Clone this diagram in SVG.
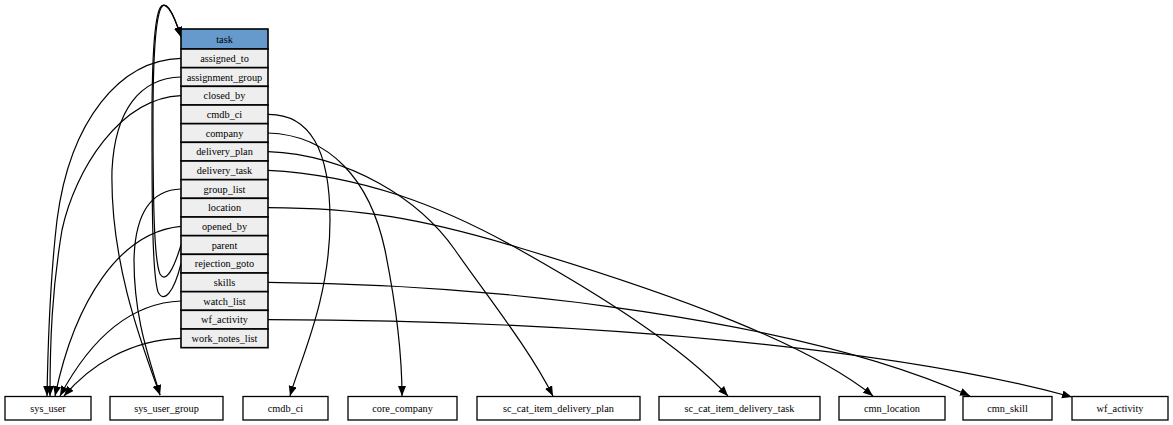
<svg xmlns="http://www.w3.org/2000/svg" width="1173" height="425" viewBox="0 0 1173 425">
<style>
text{font-family:"Liberation Serif","Times New Roman",serif;font-size:10.3px;fill:#000;text-anchor:middle}
.cell{fill:#eeeeee;stroke:#000;stroke-width:1.6}
.hdr{fill:#6699cc;stroke:#000;stroke-width:1.6}
.box{fill:#fff;stroke:#000;stroke-width:1.3}
.e{fill:none;stroke:#000;stroke-width:1.2;marker-end:url(#ah)}
</style>
<defs>
<marker id="ah" markerUnits="userSpaceOnUse" markerWidth="12" markerHeight="9" refX="10" refY="4" orient="auto">
<path d="M0,0 L10,4 L0,8 z" fill="#000"/>
</marker>
</defs>
<rect width="1173" height="425" fill="#fff"/>
<g id="connectors">
<path class="e" d="M181,58.3 C120,60 70,120 57,220 C50,280 48,340 47,396"/>
<path class="e" d="M181,95.7 C120,98 75,170 62,230 C52,290 50,340 50,396"/>
<path class="e" d="M181,226.3 C120,232 75,300 55,396"/>
<path class="e" d="M181,301 C130,303 90,340 60,396"/>
<path class="e" d="M181,338.3 C130,340 90,365 64,396"/>
<path class="e" d="M181,77 C140,78 115,110 112,170 C110,260 140,340 160,395"/>
<path class="e" d="M181,189 C150,190 135,215 134,260 C134,320 150,360 160,395"/>
<path class="e" d="M181,245 C174,268 166,284 160,274 C154,260 153,200 153,120 C153,60 155,20 161,8 C165,0 172,8 181,37"/>
<path class="e" d="M181,263.7 C174,292 164,304 158,292 C152,272 152,200 152,120 C152,60 154,20 160,8 C164,0 172,8 181,37"/>
<path class="e" d="M268,114.3 C310,114 330,150 330,220 C330,300 300,360 290,396"/>
<path class="e" d="M268,133 C330,135 370,180 385,250 C395,300 402,350 402,396"/>
<path class="e" d="M268,151.7 C350,155 420,200 455,250 C490,300 530,350 553,396"/>
<path class="e" d="M268,170.3 C360,175 440,205 520,250 C600,295 680,345 728,396"/>
<path class="e" d="M268,207.7 C360,208 420,218 520,248 C680,296 810,345 873,396"/>
<path class="e" d="M268,282.3 C500,284 800,320 970,396"/>
<path class="e" d="M268,319.7 C600,320 900,350 1072,397"/>
</g>
<g id="task">
<rect class="hdr" x="181" y="29" width="87" height="20"/>
<text x="224.5" y="42.5">task</text>
<rect class="cell" x="181" y="49" width="87" height="18.67"/><text x="224.5" y="61.8">assigned_to</text>
<rect class="cell" x="181" y="67.67" width="87" height="18.67"/><text x="224.5" y="80.5">assignment_group</text>
<rect class="cell" x="181" y="86.33" width="87" height="18.67"/><text x="224.5" y="99.2">closed_by</text>
<rect class="cell" x="181" y="105" width="87" height="18.67"/><text x="224.5" y="117.8">cmdb_ci</text>
<rect class="cell" x="181" y="123.67" width="87" height="18.67"/><text x="224.5" y="136.5">company</text>
<rect class="cell" x="181" y="142.33" width="87" height="18.67"/><text x="224.5" y="155.2">delivery_plan</text>
<rect class="cell" x="181" y="161" width="87" height="18.67"/><text x="224.5" y="173.8">delivery_task</text>
<rect class="cell" x="181" y="179.67" width="87" height="18.67"/><text x="224.5" y="192.5">group_list</text>
<rect class="cell" x="181" y="198.33" width="87" height="18.67"/><text x="224.5" y="211.2">location</text>
<rect class="cell" x="181" y="217" width="87" height="18.67"/><text x="224.5" y="229.8">opened_by</text>
<rect class="cell" x="181" y="235.67" width="87" height="18.67"/><text x="224.5" y="248.5">parent</text>
<rect class="cell" x="181" y="254.33" width="87" height="18.67"/><text x="224.5" y="267.2">rejection_goto</text>
<rect class="cell" x="181" y="273" width="87" height="18.67"/><text x="224.5" y="285.8">skills</text>
<rect class="cell" x="181" y="291.67" width="87" height="18.67"/><text x="224.5" y="304.5">watch_list</text>
<rect class="cell" x="181" y="310.33" width="87" height="18.67"/><text x="224.5" y="323.2">wf_activity</text>
<rect class="cell" x="181" y="329" width="87" height="18.67"/><text x="224.5" y="341.8">work_notes_list</text>
</g>
<g id="sys_user"><rect class="box" x="5" y="396.5" width="86" height="23.5"/><text x="48" y="412">sys_user</text></g>
<g id="sys_user_group"><rect class="box" x="110" y="396.5" width="113" height="23.5"/><text x="166.5" y="412">sys_user_group</text></g>
<g id="cmdb_ci"><rect class="box" x="243" y="396.5" width="85" height="23.5"/><text x="285.5" y="412">cmdb_ci</text></g>
<g id="core_company"><rect class="box" x="348" y="396.5" width="109" height="23.5"/><text x="402.5" y="412">core_company</text></g>
<g id="sc_cat_item_delivery_plan"><rect class="box" x="477" y="396.5" width="163" height="23.5"/><text x="558.5" y="412">sc_cat_item_delivery_plan</text></g>
<g id="sc_cat_item_delivery_task"><rect class="box" x="659" y="396.5" width="161" height="23.5"/><text x="739.5" y="412">sc_cat_item_delivery_task</text></g>
<g id="cmn_location"><rect class="box" x="839" y="396.5" width="106" height="23.5"/><text x="892" y="412">cmn_location</text></g>
<g id="cmn_skill"><rect class="box" x="963" y="396.5" width="89" height="23.5"/><text x="1007.5" y="412">cmn_skill</text></g>
<g id="wf_activity"><rect class="box" x="1072" y="396.5" width="96" height="23.5"/><text x="1120" y="412">wf_activity</text></g>
</svg>
